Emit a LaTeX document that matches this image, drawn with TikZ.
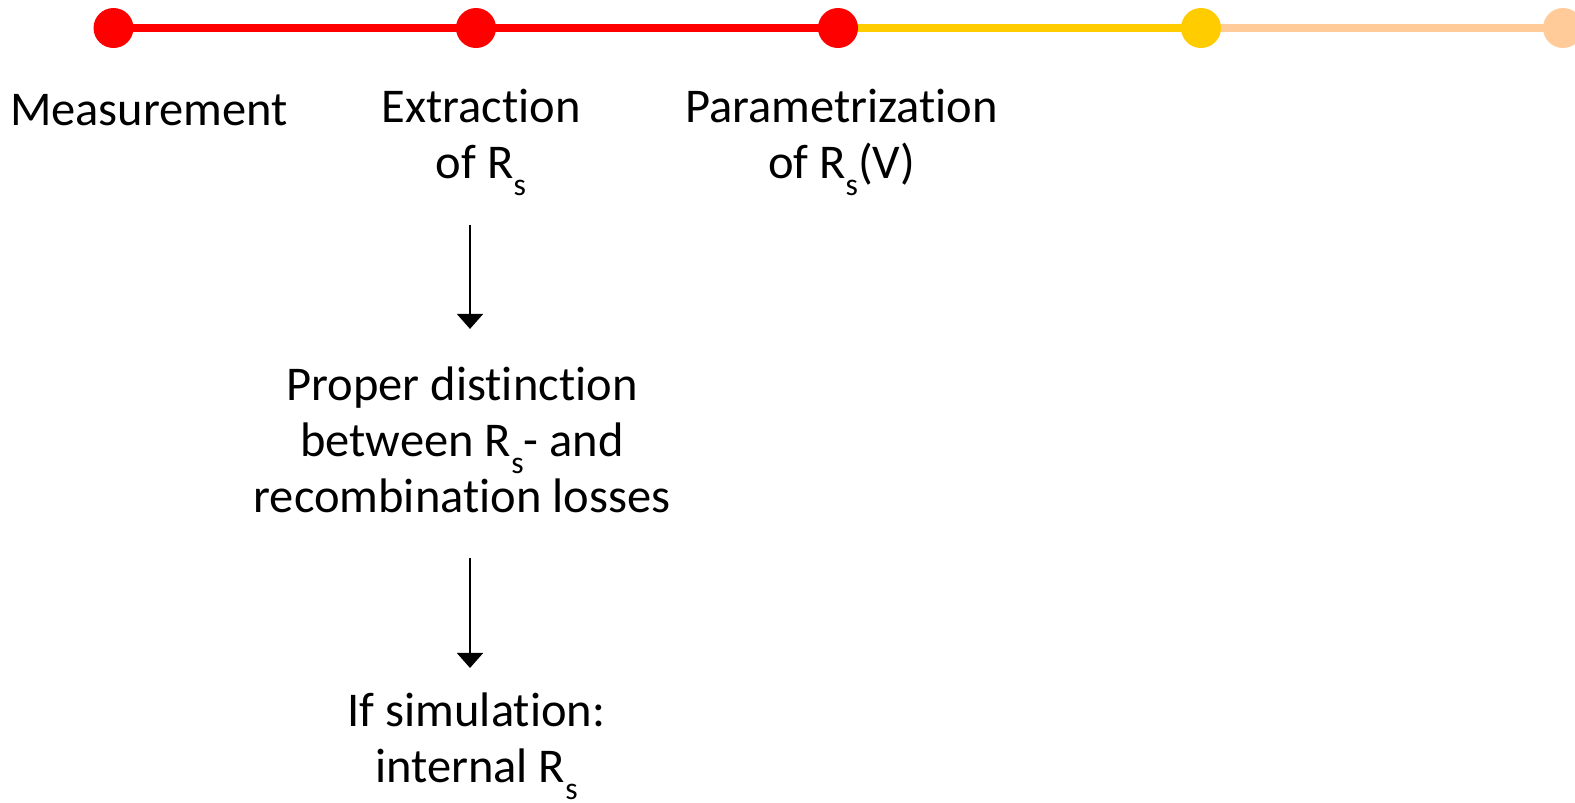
\documentclass[tikz,border=0pt]{standalone}
\usepackage{fontspec}
\setmainfont{Carlito}[Ligatures=NoCommon]
\usetikzlibrary{arrows.meta}
\definecolor{stagered}{RGB}{255,0,0}
\definecolor{stageyellow}{RGB}{255,204,0}
\definecolor{stagepeach}{RGB}{255,204,153}
% series resistance with its lowered index
\newcommand{\Rs}{R\raisebox{-0.36em}{\fontsize{18}{18}\selectfont s}}
\begin{document}
\begin{tikzpicture}[
    stage/.style={circle,fill=#1,minimum size=0.8cm,inner sep=0pt},
    track/.style={line width=0.16cm,draw=#1},
    label/.style={font=\fontsize{27.6}{31.6}\selectfont,align=center,anchor=base,inner sep=0pt},
    flow/.style={line width=0.04cm,-{Triangle[width=0.52cm,length=0.3cm]}}]
    \useasboundingbox (0,0) rectangle (31.5,-16.04);
    % time line
    \coordinate (s1) at (2.27,-0.56);
    \coordinate (s2) at (9.52,-0.56);
    \coordinate (s3) at (16.76,-0.56);
    \coordinate (s4) at (24.02,-0.56);
    \coordinate (s5) at (31.26,-0.56);
    \draw[track=stagered] (s1)--(s3);
    \draw[track=stageyellow] (s3)--(s4);
    \draw[track=stagepeach] (s4)--(s5);
    \node[stage=stagered] (d1) at (s1) {};
    \node[stage=stagered] (d2) at (s2) {};
    \node[stage=stagered] (d3) at (s3) {};
    \node[stage=stageyellow] (d4) at (s4) {};
    \node[stage=stagepeach] (d5) at (s5) {};
    % steps (anchored at the last baseline)
    \node[label] (meas) at (2.98,-2.5) {Measurement};
    \node[label] (extr) at (9.62,-3.57) {Extraction\\of \Rs};
    \node[label] (param) at (16.83,-3.57) {Parametrization\\of \Rs(V)};
    \node[label] (dist) at (9.24,-10.24) {Proper distinction\\between \Rs- and\\recombination losses};
    \node[label] (sim) at (9.53,-15.65) {If simulation:\\internal \Rs};
    % arrows down the left branch
    \coordinate (ax) at (9.4,0);
    \draw[flow,shorten <=0.56cm,shorten >=0.76cm] (extr.south -| ax)--(dist.north -| ax);
    \draw[flow,shorten <=0.9cm,shorten >=0.5cm] (dist.south -| ax)--(sim.north -| ax);
\end{tikzpicture}
\end{document}
